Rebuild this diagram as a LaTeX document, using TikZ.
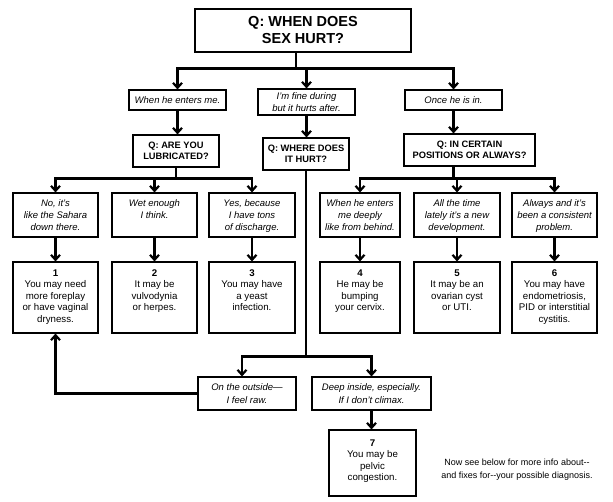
\documentclass[tikz,border=0pt]{standalone}
\usepackage{fontspec}
\setmainfont{Liberation Sans}
\usetikzlibrary{arrows.meta, positioning, calc}

\begin{document}
\begin{tikzpicture}[x=1pt, y=-1pt, >={Straight Barb[length=5pt, width=9pt]},
		box/.style={draw, line width=1.1pt, inner sep=0pt},
		title/.style={box, align=center, minimum width=216pt, minimum height=43pt, font=\fontsize{14.5}{17}\selectfont\bfseries},
		reply/.style={box, align=center, minimum width=97pt, minimum height=20pt, font=\fontsize{9.5}{12.3}\selectfont\itshape},
		question/.style={box, align=center, minimum width=86pt, minimum height=32pt, font=\fontsize{9.3}{11}\selectfont\bfseries},
		answer/.style={box, font=\fontsize{9.5}{11.8}\selectfont\itshape},
		result/.style={box, font=\fontsize{9.7}{11.4}\selectfont},
		link/.style={line width=2.2pt},
		arr/.style={link, ->}]
		% fixed size box, text hung from the top
		\def\celltext#1#2#3#4{\parbox[c][#2pt][t]{#1pt}{\centering\rule{0pt}{#3pt}#4}}
		
		\useasboundingbox (0,0) rectangle (613,502);
		
		% Main question
		\node[title] (sexHurt) at (303,30.5) {Q: WHEN DOES\\SEX HURT?};
		
		% First replies
		\node[reply] (entersMe) at (177.5,100) {When he enters me.};
		\node[reply, minimum height=26pt] (hurtsAfter) at (306.5,102) {I'm fine during\\but it hurts after.};
		\node[reply] (onceIn) at (453.5,100) {Once he is in.};
		
		% Follow-up questions
		\node[question] (lubricated) at (176,151) {Q: ARE YOU\\LUBRICATED?};
		\node[question] (whereHurt) at (306,154) {Q: WHERE DOES\\IT HURT?};
		\node[question, minimum width=131pt] (positions) at (469.5,150) {Q: IN CERTAIN\\POSITIONS OR ALWAYS?};
		
		% Answers
		\node[answer] (sahara) at (55.5,215) {\celltext{85}{44}{14}{No, it's\\like the Sahara\\down there.}};
		\node[answer] (wetEnough) at (154.5,215) {\celltext{85}{44}{14}{Wet enough\\I think.}};
		\node[answer] (discharge) at (252,215) {\celltext{86}{44}{14}{Yes, because\\I have tons\\of discharge.}};
		\node[answer] (behind) at (360,215) {\celltext{80}{44}{14}{When he enters\\me deeply\\like from behind.}};
		\node[answer] (newDev) at (457,215) {\celltext{86}{44}{14}{All the time\\lately it's a new\\development.}};
		\node[answer] (consistent) at (554.5,215) {\celltext{85}{44}{14}{Always and it's\\been a consistent\\problem.}};
		
		% Possible diagnoses
		\node[result] (dryness) at (55.5,297.5) {\celltext{85}{71}{14.5}{\textbf{1}\\You may need\\more foreplay\\or have vaginal\\dryness.}};
		\node[result] (herpes) at (154.5,297.5) {\celltext{85}{71}{14.5}{\textbf{2}\\It may be\\vulvodynia\\or herpes.}};
		\node[result] (yeast) at (252,297.5) {\celltext{86}{71}{14.5}{\textbf{3}\\You may have\\a yeast\\infection.}};
		\node[result] (cervix) at (360,297.5) {\celltext{80}{71}{14.5}{\textbf{4}\\He may be\\bumping\\your cervix.}};
		\node[result] (cyst) at (457,297.5) {\celltext{86}{71}{14.5}{\textbf{5}\\It may be an\\ovarian cyst\\or UTI.}};
		\node[result] (cystitis) at (554.5,297.5) {\celltext{85}{71}{14.5}{\textbf{6}\\You may have\\endometriosis,\\PID or interstitial\\cystitis.}};
		
		% Where does it hurt
		\node[reply, minimum width=98pt, minimum height=33pt] (outside) at (247,393.5) {On the outside---\\I feel raw.};
		\node[reply, minimum width=119pt, minimum height=33pt] (deepInside) at (371.5,393.5) {Deep inside, especially.\\If I don't climax.};
		\node[result] (congestion) at (372.5,463) {\celltext{87}{66}{16.5}{\textbf{7}\\You may be\\pelvic\\congestion.}};
		
		\node[align=center, font=\fontsize{9}{13}\selectfont] (seeBelow) at (517,469.5) {Now see below for more info about{-}{-}\\and fixes for{-}{-}your possible diagnosis.};
		
		% Junction points
		\coordinate (topBar) at ($(sexHurt.south)+(-7,16)$);
		\coordinate (leftBar) at ($(lubricated.south)+(0,11)$);
		\coordinate (rightBar) at ($(positions.south -| onceIn.south)+(0,12)$);
		\coordinate (midBar) at ($(whereHurt.south)+(0,186)$);
		
		% Connectors
		\draw[link] ([xshift=-7pt]sexHurt.south) -- (topBar);
		\draw[arr] (topBar) -| (entersMe.north);
		\draw[arr] (topBar) -| (hurtsAfter.north);
		\draw[arr] (topBar) -| (onceIn.north);
		
		\draw[arr] (entersMe.south) -- (entersMe.south |- lubricated.north);
		\draw[arr] (hurtsAfter.south) -- (hurtsAfter.south |- whereHurt.north);
		\draw[arr] (onceIn.south) -- (onceIn.south |- positions.north);
		
		\draw[link] (lubricated.south) -- (leftBar);
		\draw[arr] (leftBar) -| (sahara.north);
		\draw[arr] (leftBar) -| (wetEnough.north);
		\draw[arr] (leftBar) -| (discharge.north);
		
		\draw[link] (positions.south -| onceIn.south) -- (rightBar);
		\draw[arr] (rightBar) -| (behind.north);
		\draw[arr] (rightBar) -| (newDev.north);
		\draw[arr] (rightBar) -| (consistent.north);
		
		\draw[arr] (sahara.south) -- (dryness.north);
		\draw[arr] (wetEnough.south) -- (herpes.north);
		\draw[arr] (discharge.south) -- (yeast.north);
		\draw[arr] (behind.south) -- (cervix.north);
		\draw[arr] (newDev.south) -- (cyst.north);
		\draw[arr] (consistent.south) -- (cystitis.north);
		
		\draw[link] (whereHurt.south) -- (midBar);
		\draw[arr] (midBar) -| ([xshift=-5pt]outside.north);
		\draw[arr] (midBar) -| (deepInside.north);
		\draw[arr] (deepInside.south) -- (deepInside.south |- congestion.north);
		\draw[arr] (outside.west) -| (dryness.south);
		
	\end{tikzpicture}
\end{document}
